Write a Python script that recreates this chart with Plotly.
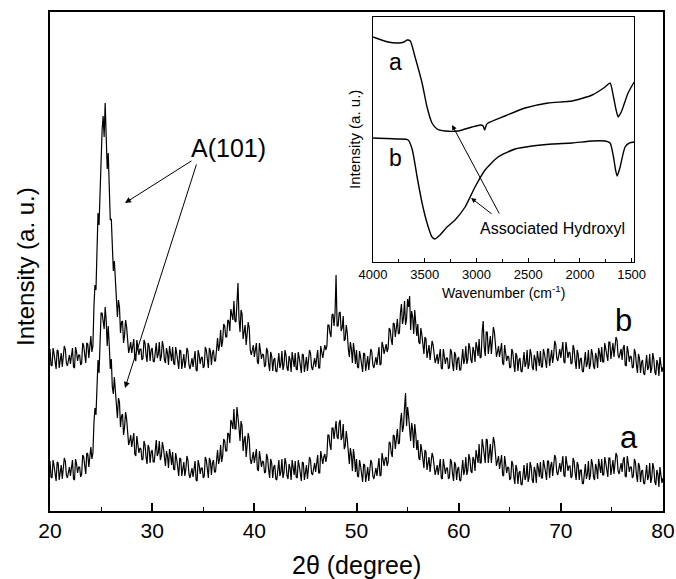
import numpy as np
import plotly.graph_objects as go

# ---- XRD patterns, 0.1 degree step ----
# readings at 20.0, 20.2, ... 80.0
xrd_a_even = [
    50, 33, 45, 30, 48, 42, 32, 53, 36, 38,
    35, 51, 31, 47, 44, 34, 56, 43, 58, 44,
    64, 58, 103, 117, 138, 198, 186, 204, 165, 166,
    152, 117, 120, 93, 109, 95, 76, 99, 72, 70,
    64, 78, 55, 68, 63, 51, 70, 54, 66, 48,
    61, 49, 71, 58, 51, 69, 49, 60, 43, 56,
    59, 41, 52, 35, 52, 46, 35, 55, 37, 38,
    34, 50, 30, 46, 43, 33, 54, 40, 53, 36,
    51, 39, 61, 52, 49, 72, 60, 78, 68, 88,
    102, 82, 95, 70, 85, 71, 54, 78, 52, 52,
    48, 62, 40, 54, 50, 38, 57, 41, 52, 33,
    46, 31, 51, 39, 33, 53, 35, 47, 31, 45,
    50, 33, 45, 30, 48, 42, 32, 54, 38, 41,
    39, 56, 38, 55, 54, 49, 76, 66, 83, 72,
    90, 72, 91, 74, 62, 80, 53, 63, 40, 53,
    52, 34, 45, 29, 46, 40, 30, 51, 35, 37,
    35, 53, 36, 53, 52, 45, 69, 58, 76, 62,
    82, 68, 98, 85, 118, 104, 76, 88, 63, 77,
    71, 51, 60, 43, 59, 51, 39, 58, 40, 41,
    36, 52, 32, 46, 43, 32, 52, 37, 49, 31,
    44, 30, 51, 41, 36, 57, 40, 54, 40, 56,
    67, 48, 65, 48, 71, 62, 48, 74, 50, 50,
    42, 56, 35, 48, 44, 31, 50, 34, 46, 27,
    40, 26, 46, 35, 29, 49, 31, 44, 28, 43,
    49, 33, 46, 31, 50, 45, 35, 56, 39, 42,
    39, 55, 34, 49, 45, 33, 53, 38, 49, 31,
    41, 27, 47, 37, 31, 52, 34, 47, 32, 46,
    52, 36, 48, 34, 53, 47, 37, 58, 40, 42,
    39, 54, 34, 48, 44, 33, 52, 36, 48, 29,
    41, 27, 46, 35, 28, 48, 29, 41, 24, 38,
    33,
]
# readings at 20.1, 20.3, ... 79.9
xrd_a_odd = [
    34, 51, 38, 49, 31, 46, 40, 50, 33, 44,
    47, 32, 52, 38, 44, 37, 54, 37, 57, 58,
    52, 88, 96, 151, 160, 198, 182, 191, 185, 142,
    124, 134, 107, 113, 84, 97, 84, 92, 66, 76,
    75, 57, 75, 58, 62, 52, 66, 47, 63, 59,
    49, 65, 55, 70, 55, 63, 45, 55, 62, 46,
    42, 58, 44, 53, 35, 49, 42, 51, 33, 43,
    46, 31, 51, 37, 43, 35, 51, 33, 50, 48,
    39, 55, 47, 66, 55, 70, 60, 77, 91, 82,
    82, 104, 83, 90, 60, 75, 63, 72, 47, 59,
    59, 42, 60, 44, 49, 39, 53, 33, 48, 44,
    32, 46, 35, 52, 38, 48, 32, 43, 51, 36,
    34, 51, 38, 49, 31, 46, 41, 51, 36, 48,
    51, 38, 60, 47, 57, 55, 76, 61, 83, 85,
    74, 88, 71, 87, 65, 71, 47, 56, 62, 39,
    35, 51, 37, 47, 29, 44, 38, 48, 32, 43,
    48, 35, 58, 45, 54, 49, 68, 54, 75, 76,
    67, 89, 79, 103, 85, 95, 70, 81, 87, 61,
    53, 67, 52, 61, 41, 54, 46, 54, 36, 46,
    48, 33, 52, 37, 43, 34, 49, 30, 46, 42,
    31, 45, 36, 54, 41, 52, 38, 51, 61, 48,
    48, 72, 57, 72, 48, 67, 58, 69, 45, 55,
    53, 36, 55, 38, 43, 33, 47, 27, 42, 38,
    27, 41, 31, 48, 34, 44, 28, 40, 48, 34,
    33, 51, 39, 50, 33, 49, 43, 53, 36, 48,
    51, 36, 55, 40, 45, 35, 50, 31, 46, 41,
    28, 42, 32, 50, 36, 47, 31, 43, 52, 38,
    36, 54, 42, 53, 36, 51, 45, 55, 37, 48,
    51, 35, 55, 39, 44, 35, 49, 29, 45, 40,
    28, 42, 31, 48, 33, 43, 26, 37, 44, 28,
]

xrd_b_even = [
    162, 145, 157, 142, 160, 154, 144, 165, 148, 150,
    147, 163, 143, 159, 156, 146, 168, 154, 168, 153,
    175, 165, 226, 251, 286, 372, 395, 408, 342, 327,
    292, 240, 230, 194, 204, 189, 168, 191, 164, 163,
    158, 172, 150, 165, 162, 151, 171, 156, 168, 150,
    163, 149, 168, 157, 150, 170, 151, 163, 146, 159,
    164, 146, 158, 142, 160, 153, 143, 163, 146, 147,
    144, 160, 140, 156, 153, 143, 164, 150, 163, 146,
    161, 150, 173, 166, 164, 187, 174, 191, 180, 198,
    210, 189, 228, 179, 197, 183, 166, 189, 161, 160,
    154, 168, 147, 161, 157, 144, 163, 147, 159, 140,
    153, 139, 158, 147, 141, 161, 143, 155, 139, 153,
    158, 141, 153, 138, 156, 150, 140, 161, 144, 146,
    144, 161, 143, 160, 160, 161, 186, 178, 196, 185,
    236, 185, 199, 183, 170, 186, 162, 169, 148, 159,
    161, 143, 154, 139, 157, 151, 141, 162, 146, 148,
    146, 164, 147, 165, 164, 159, 183, 171, 188, 174,
    192, 178, 207, 193, 186, 212, 215, 200, 177, 191,
    187, 167, 176, 157, 172, 163, 151, 170, 152, 152,
    147, 162, 142, 156, 153, 142, 162, 147, 159, 141,
    154, 141, 162, 152, 147, 168, 151, 164, 149, 164,
    172, 154, 190, 155, 179, 171, 157, 184, 160, 159,
    154, 168, 146, 160, 155, 143, 162, 147, 158, 140,
    153, 139, 159, 148, 142, 162, 144, 156, 140, 154,
    160, 144, 157, 143, 162, 157, 148, 170, 153, 156,
    153, 169, 148, 163, 159, 147, 166, 150, 161, 142,
    153, 139, 159, 148, 142, 162, 145, 158, 143, 158,
    164, 149, 163, 150, 169, 164, 154, 174, 156, 157,
    151, 166, 145, 159, 155, 143, 162, 146, 157, 138,
    151, 136, 156, 144, 138, 158, 139, 151, 135, 148,
    144,
]
xrd_b_odd = [
    146, 163, 150, 161, 143, 158, 152, 162, 145, 156,
    159, 144, 164, 150, 156, 148, 165, 148, 167, 167,
    159, 204, 221, 298, 320, 381, 374, 379, 358, 291,
    256, 250, 212, 211, 178, 190, 176, 184, 158, 169,
    169, 152, 171, 156, 162, 153, 168, 149, 165, 161,
    150, 164, 153, 169, 155, 164, 148, 158, 165, 150,
    148, 164, 150, 161, 142, 157, 150, 160, 142, 153,
    156, 141, 161, 147, 154, 145, 161, 143, 160, 158,
    150, 167, 160, 181, 170, 185, 174, 190, 202, 191,
    190, 212, 192, 201, 172, 186, 175, 183, 156, 166,
    165, 149, 168, 152, 156, 146, 160, 140, 155, 151,
    140, 153, 143, 160, 146, 156, 140, 151, 159, 144,
    142, 159, 146, 157, 139, 154, 148, 158, 141, 153,
    157, 143, 165, 153, 166, 165, 186, 174, 197, 198,
    185, 198, 180, 195, 172, 178, 154, 162, 168, 147,
    144, 160, 147, 158, 140, 155, 149, 159, 143, 154,
    159, 146, 169, 157, 167, 163, 181, 166, 187, 187,
    177, 198, 187, 210, 192, 204, 181, 194, 201, 175,
    169, 183, 167, 174, 153, 166, 158, 166, 148, 157,
    158, 143, 162, 147, 153, 144, 159, 140, 156, 152,
    141, 156, 147, 165, 152, 163, 148, 160, 169, 155,
    153, 179, 164, 179, 157, 175, 167, 179, 154, 165,
    165, 148, 166, 150, 154, 144, 159, 139, 155, 151,
    140, 154, 144, 161, 147, 157, 141, 152, 160, 145,
    144, 162, 150, 162, 145, 161, 156, 167, 150, 162,
    165, 149, 169, 153, 158, 148, 162, 142, 157, 152,
    140, 154, 144, 161, 147, 157, 142, 154, 163, 149,
    149, 168, 157, 169, 152, 168, 162, 171, 153, 162,
    163, 146, 165, 149, 154, 144, 158, 138, 153, 149,
    138, 151, 141, 157, 143, 152, 136, 147, 154, 139,
]

xrd_ticks = [20, 30, 40, 50, 60, 70, 80]

# ---- FTIR spectra (inset) ----
ftir_wn_a = [4000, 3855, 3758, 3700, 3670, 3640, 3594, 3526, 3478, 3430,
             3381, 3304, 3178, 3043, 2960, 2936, 2920, 2905, 2888, 2724,
             2530, 2307, 2075, 1882, 1756, 1708, 1675, 1650, 1630, 1610,
             1592, 1534, 1475]
ftir_a = [225, 220, 219, 220, 222, 221, 205, 179, 155, 139,
          133, 131, 131, 135, 137, 136, 132, 137, 139, 146,
          154, 159, 161, 167, 175, 179, 165, 152, 145, 148,
          152, 169, 180]

ftir_wn_b = [4000, 3758, 3660, 3620, 3574, 3526, 3478, 3430, 3400, 3352,
             3285, 3207, 3110, 3014, 2917, 2791, 2627, 2462, 2269, 2075,
             1882, 1756, 1708, 1675, 1655, 1640, 1611, 1563, 1520, 1475]
ftir_b = [124, 123, 122, 112, 85, 59, 39, 25, 23, 27,
          35, 42, 55, 75, 92, 105, 113, 116, 118, 119,
          121, 121, 119, 105, 92, 86, 95, 115, 119, 120]

ftir_ticks = [4000, 3500, 3000, 2500, 2000, 1500]


def merge_scan(even, odd):
    """Merge the two interleaved reading lists into one ordered scan."""
    scan = []
    for e, o in zip(even, odd):
        scan.extend([e, o])
    scan.append(even[-1])
    return scan


two_theta = np.round(np.arange(20.0, 80.0001, 0.1), 1)
xrd_a = merge_scan(xrd_a_even, xrd_a_odd)
xrd_b = merge_scan(xrd_b_even, xrd_b_odd)

FONT = "Liberation Sans, Arial, sans-serif"

fig = go.Figure()

for series in (xrd_a, xrd_b):
    fig.add_trace(go.Scatter(x=two_theta, y=series, mode="lines",
                             line=dict(color="black", width=1.2),
                             xaxis="x", yaxis="y", showlegend=False))

for wn, series in ((ftir_wn_a, ftir_a), (ftir_wn_b, ftir_b)):
    fig.add_trace(go.Scatter(x=wn, y=series, mode="lines",
                             line=dict(color="black", width=1.4, shape="spline", smoothing=0.6),
                             xaxis="x2", yaxis="y2", showlegend=False))

annotations = [
    # main axis titles
    dict(text="2θ (degree)", xref="paper", yref="paper", x=0.5, y=-0.108,
         xanchor="center", yanchor="middle", showarrow=False,
         font=dict(size=25, color="black", family=FONT)),
    dict(text="Intensity (a. u.)", xref="paper", yref="paper", x=-0.04, y=0.49,
         xanchor="center", yanchor="middle", textangle=-90, showarrow=False,
         font=dict(size=24, color="black", family=FONT)),
    # peak label and arrows
    dict(text="A(101)", xref="x", yref="y", x=37.5, y=363, showarrow=False,
         font=dict(size=25, color="black", family=FONT)),
    dict(text="", xref="x", yref="y", axref="x", ayref="y",
         x=27.34, y=308, ax=33.99, ay=351, showarrow=True,
         arrowhead=2, arrowsize=1.2, arrowwidth=1, arrowcolor="black"),
    dict(text="", xref="x", yref="y", axref="x", ayref="y",
         x=27.34, y=123, ax=34.38, ay=348, showarrow=True,
         arrowhead=2, arrowsize=1.2, arrowwidth=1, arrowcolor="black"),
    # curve labels
    dict(text="b", xref="x", yref="y", x=76.1, y=191, showarrow=False,
         font=dict(size=31, color="black", family=FONT)),
    dict(text="a", xref="x", yref="y", x=76.7, y=74, showarrow=False,
         font=dict(size=31, color="black", family=FONT)),
    # inset labels
    dict(text="a", xref="x2", yref="y2", x=3785, y=200, showarrow=False,
         font=dict(size=23, color="black", family=FONT)),
    dict(text="b", xref="x2", yref="y2", x=3785, y=104, showarrow=False,
         font=dict(size=23, color="black", family=FONT)),
    dict(text="Associated Hydroxyl", xref="x2", yref="y2", x=2269, y=34,
         showarrow=False, font=dict(size=16, color="black", family=FONT)),
    dict(text="", xref="x2", yref="y2", axref="x2", ayref="y2",
         x=3236, y=137, ax=2772, ay=47, showarrow=True,
         arrowhead=2, arrowsize=1, arrowwidth=1, arrowcolor="black"),
    dict(text="", xref="x2", yref="y2", axref="x2", ayref="y2",
         x=3052, y=64, ax=2839, ay=47, showarrow=True,
         arrowhead=2, arrowsize=1, arrowwidth=1, arrowcolor="black"),
    # inset axis titles
    dict(text="Wavenumber (cm<sup>-1</sup>)", xref="paper", yref="paper",
         x=0.74, y=0.438, xanchor="center", yanchor="middle", showarrow=False,
         font=dict(size=14, color="black", family=FONT)),
    dict(text="Intensity (a. u.)", xref="paper", yref="paper",
         x=0.497, y=0.745, xanchor="center", yanchor="middle", textangle=-90,
         showarrow=False, font=dict(size=15, color="black", family=FONT)),
]

fig.update_layout(
    width=676, height=579, autosize=False,
    margin=dict(l=50, r=13, t=12, b=68, autoexpand=False),
    paper_bgcolor="white", plot_bgcolor="white",
    font=dict(family=FONT, color="black"),
    annotations=annotations,
    xaxis=dict(
        range=[20, 80], domain=[0, 1], anchor="y", automargin=False,
        tickvals=xrd_ticks, ticks="inside", ticklen=8, tickwidth=1.5,
        tickcolor="black",
        minor=dict(dtick=5, tick0=0, ticks="inside", ticklen=4, tickwidth=1.2,
                   tickcolor="black"),
        showline=True, linecolor="black", linewidth=1.6, mirror=True,
        showgrid=False, zeroline=False,
        tickfont=dict(size=21, color="black", family=FONT),
    ),
    yaxis=dict(
        range=[0, 499], domain=[0, 1], anchor="x", automargin=False,
        showticklabels=False, ticks="",
        showline=True, linecolor="black", linewidth=1.6, mirror=True,
        showgrid=False, zeroline=False,
    ),
    xaxis2=dict(
        range=[4000, 1475], domain=[0.527, 0.953], anchor="y2", automargin=False,
        tickvals=ftir_ticks, ticks="inside", ticklen=4, tickwidth=1,
        tickcolor="black",
        minor=dict(tickvals=[3750, 3250, 2750, 2250, 1750], ticks="inside",
                   ticklen=3, tickwidth=1, tickcolor="black"),
        showline=True, linecolor="black", linewidth=1, mirror=True,
        showgrid=False, zeroline=False,
        tickfont=dict(size=13, color="black", family=FONT),
    ),
    yaxis2=dict(
        range=[0, 245], domain=[0.499, 0.990], anchor="x2", automargin=False,
        showticklabels=False, ticks="",
        showline=True, linecolor="black", linewidth=1, mirror=True,
        showgrid=False, zeroline=False,
    ),
)

fig.write_html("out.html")
